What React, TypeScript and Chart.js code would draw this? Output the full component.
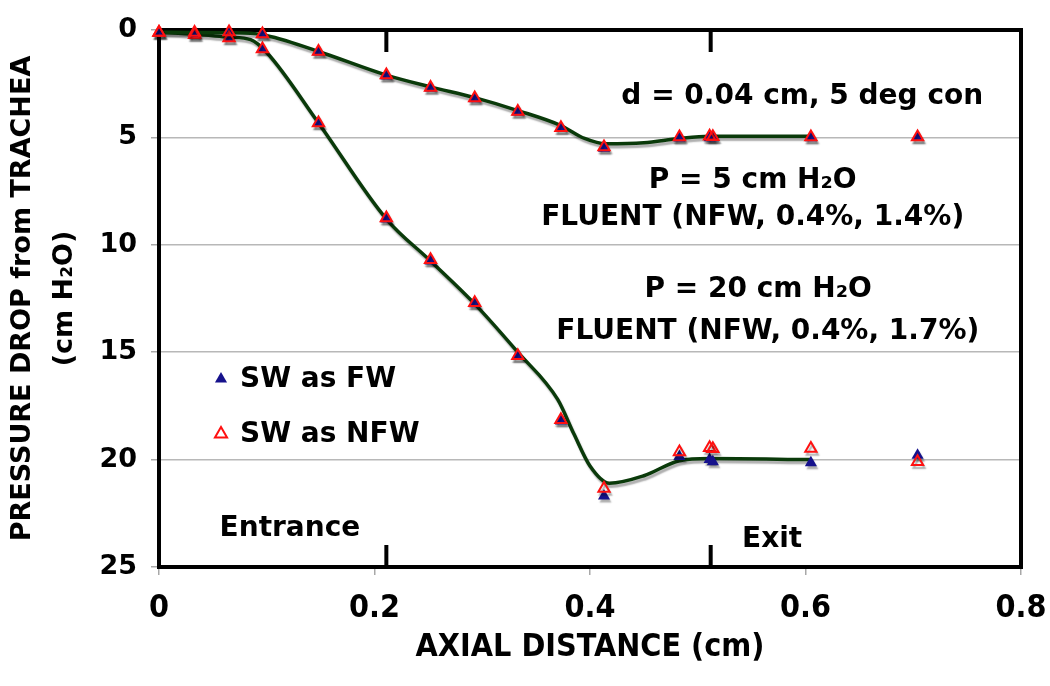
import React, { useEffect, useRef } from 'react';
import { Chart, registerables } from 'chart.js';

Chart.register(...registerables);

// ---- data ----
// axial positions of the computed points (cm)
const axialX = [0, 0.033, 0.065, 0.096, 0.148, 0.211, 0.252, 0.293, 0.333, 0.373, 0.413, 0.483, 0.511, 0.514, 0.605, 0.704];
// P = 5 cm H2O
const p5SWasFW = [0.14, 0.16, 0.12, 0.22, 1.02, 2.14, 2.7, 3.2, 3.82, 4.58, 5.5, 5.03, 5.02, 5.02, 5.02, 5.0];
const p5SWasNFW = [0.12, 0.12, 0.09, 0.19, 1.0, 2.1, 2.68, 3.17, 3.8, 4.55, 5.45, 4.98, 4.95, 4.97, 4.98, 4.98];
// P = 20 cm H2O
const p20SWasFW = [0.14, 0.25, 0.4, 0.9, 4.35, 8.8, 10.75, 12.75, 15.2, 18.2, 21.7, 19.85, 20.0, 20.1, 20.15, 19.8];
const p20SWasNFW = [0.12, 0.22, 0.37, 0.88, 4.33, 8.75, 10.7, 12.7, 15.17, 18.15, 21.35, 19.65, 19.45, 19.5, 19.48, 20.1];

// FLUENT (NFW) curves
const fluentP5X = [0, 0.033, 0.065, 0.096, 0.148, 0.211, 0.252, 0.293, 0.333, 0.373, 0.395, 0.415, 0.45, 0.483, 0.511, 0.605];
const fluentP5Y = [0.1, 0.12, 0.13, 0.22, 1.0, 2.1, 2.65, 3.15, 3.75, 4.45, 5.05, 5.3, 5.25, 5.05, 4.95, 4.95];
const fluentP20X = [0, 0.033, 0.065, 0.085, 0.1, 0.148, 0.211, 0.252, 0.293, 0.333, 0.37, 0.385, 0.4, 0.418, 0.45, 0.483, 0.511, 0.605];
const fluentP20Y = [0.12, 0.2, 0.33, 0.45, 1.05, 4.33, 8.8, 10.75, 12.75, 15.0, 17.2, 18.8, 20.3, 21.1, 20.75, 20.05, 19.95, 20.0];

// section boundaries (cm)
const boundaryX = [0.211, 0.512];

// axis ranges / ticks
const xMin = 0, xMax = 0.8, xStep = 0.2;
const yMin = 0, yMax = 25, yStep = 5;

// texts
const legendLabels = ['SW as FW', 'SW as NFW'];
const xTitle = 'AXIAL DISTANCE (cm)';
const yTitleLines = ['PRESSURE DROP from TRACHEA', '(cm H\u2082O)'];
const noteTexts = [
  'd = 0.04 cm, 5 deg con',
  'P = 5 cm H\u2082O',
  'FLUENT (NFW, 0.4%, 1.4%)',
  'P = 20 cm H\u2082O',
  'FLUENT (NFW, 0.4%, 1.7%)',
  'Entrance',
  'Exit',
];
// anchor of each note in data units (x centre, y centre)
const noteX = [0.597, 0.551, 0.551, 0.556, 0.565, 0.1215, 0.569];
const noteY = [3.12, 7.0, 8.75, 12.1, 14.05, 23.2, 23.75];

const FW_COLOR = '#16128c';
const NFW_COLOR = '#ff1010';
const LINE_COLOR = '#0a3a0a';
const FONT = '"DejaVu Sans", Verdana, sans-serif';
const FONT_COND = '"Liberation Sans Narrow", "DejaVu Sans Condensed", "DejaVu Sans", sans-serif';

const pts = (xs: number[], ys: number[]) => xs.map((x, i) => ({ x, y: ys[i] }));

function drawTriangle(ctx: CanvasRenderingContext2D, x: number, y: number, r: number) {
  ctx.beginPath();
  let rad = 0;
  for (let k = 0; k < 3; k++) {
    const px = x + Math.sin(rad) * r;
    const py = y - Math.cos(rad) * r;
    if (k === 0) ctx.moveTo(px, py); else ctx.lineTo(px, py);
    rad += (2 * Math.PI) / 3;
  }
  ctx.closePath();
}

const decorPlugin = {
  id: 'decor',
  beforeDatasetsDraw(chart: any) {
    const { ctx, chartArea: a, scales } = chart;
    const x = scales.x;
    ctx.save();
    ctx.strokeStyle = '#000';
    ctx.lineWidth = 4;
    ctx.strokeRect(a.left, a.top, a.right - a.left, a.bottom - a.top);
    ctx.beginPath();
    boundaryX.forEach((v) => {
      const px = x.getPixelForValue(v);
      ctx.moveTo(px, a.top);
      ctx.lineTo(px, a.top + 22);
      ctx.moveTo(px, a.bottom);
      ctx.lineTo(px, a.bottom - 22);
    });
    ctx.stroke();
    ctx.restore();
  },
  beforeDatasetDraw(chart: any) {
    const ctx = chart.ctx;
    ctx.save();
    ctx.shadowColor = 'rgba(0,0,0,0.32)';
    ctx.shadowOffsetX = 1.5;
    ctx.shadowOffsetY = 3;
    ctx.shadowBlur = 1.5;
  },
  afterDatasetDraw(chart: any) {
    chart.ctx.restore();
  },
  afterDraw(chart: any) {
    const { ctx, chartArea: a, scales } = chart;
    const x = scales.x, y = scales.y;
    ctx.save();
    ctx.fillStyle = '#000';
    ctx.textBaseline = 'middle';
    // notes
    ctx.font = `bold 28px ${FONT}`;
    ctx.textAlign = 'center';
    noteTexts.forEach((t, i) => {
      ctx.fillText(t, x.getPixelForValue(noteX[i]), y.getPixelForValue(noteY[i]));
    });
    // legend
    const lx = a.left + 62;
    const ly = [y.getPixelForValue(16.3), y.getPixelForValue(18.85)];
    ctx.textAlign = 'left';
    legendLabels.forEach((t, i) => {
      drawTriangle(ctx, lx, ly[i] - 1, 7);
      if (i === 0) {
        ctx.fillStyle = FW_COLOR;
        ctx.fill();
      } else {
        ctx.strokeStyle = NFW_COLOR;
        ctx.lineWidth = 2;
        ctx.stroke();
      }
      ctx.fillStyle = '#000';
      ctx.fillText(t, lx + 19, ly[i]);
    });
    // x title
    ctx.textAlign = 'center';
    ctx.font = `bold 32px ${FONT_COND}`;
    ctx.fillText(xTitle, (a.left + a.right) / 2, 648);
    // y title
    ctx.font = `bold 27px ${FONT}`;
    ctx.translate(0, (a.top + a.bottom) / 2 + 0);
    ctx.rotate(-Math.PI / 2);
    ctx.fillText(yTitleLines[0], 0, 23);
    ctx.fillText(yTitleLines[1], 0, 65);
    ctx.restore();
  },
};

export default function App() {
  const ref = useRef<HTMLCanvasElement | null>(null);
  useEffect(() => {
    if (!ref.current) return;
    const lineDs = (data: any[]) => ({
      type: 'line' as const,
      data,
      showLine: true,
      borderColor: LINE_COLOR,
      borderWidth: 3.5,
      pointRadius: 0,
      fill: false,
      tension: 0.4,
      cubicInterpolationMode: 'monotone' as const,
      clip: false as any,
      order: 5,
    });
    const fwDs = (data: any[]) => ({
      type: 'scatter' as const,
      data,
      pointStyle: 'triangle',
      pointRadius: 7,
      pointBackgroundColor: FW_COLOR,
      pointBorderColor: FW_COLOR,
      pointBorderWidth: 0,
      showLine: false,
      clip: false as any,
      order: 3,
    });
    const nfwDs = (data: any[]) => ({
      type: 'scatter' as const,
      data,
      pointStyle: 'triangle',
      pointRadius: 6.5,
      pointBackgroundColor: 'rgba(0,0,0,0)',
      pointBorderColor: NFW_COLOR,
      pointBorderWidth: 2,
      showLine: false,
      clip: false as any,
      order: 1,
    });
    const chart = new Chart(ref.current, {
      type: 'scatter',
      data: {
        datasets: [
          { label: 'FLUENT P=5', ...lineDs(pts(fluentP5X, fluentP5Y)) },
          { label: 'FLUENT P=20', ...lineDs(pts(fluentP20X, fluentP20Y)) },
          { label: 'SW as FW (P=5)', ...fwDs(pts(axialX, p5SWasFW)) },
          { label: 'SW as FW (P=20)', ...fwDs(pts(axialX, p20SWasFW)) },
          { label: 'SW as NFW (P=5)', ...nfwDs(pts(axialX, p5SWasNFW)) },
          { label: 'SW as NFW (P=20)', ...nfwDs(pts(axialX, p20SWasNFW)) },
        ] as any,
      },
      options: {
        animation: false,
        responsive: false,
        maintainAspectRatio: false,
        layout: { padding: { top: 30, right: 29, left: 0, bottom: 0 } },
        plugins: { legend: { display: false }, tooltip: { enabled: false } },
        scales: {
          x: {
            type: 'linear',
            min: xMin,
            max: xMax,
            ticks: {
              stepSize: xStep,
              color: '#000',
              font: { family: FONT_COND, size: 32, weight: 'bold' },
              padding: 14,
              maxRotation: 0,
              callback: (v: any) => String(Math.round(Number(v) * 10) / 10),
            },
            grid: { drawOnChartArea: false, drawTicks: true, tickLength: 8, tickColor: '#a8a8a8', lineWidth: 1.5 },
            border: { display: false },
            afterFit: (s: any) => { s.height = 686 - 567; s.paddingLeft = 0; s.paddingRight = 0; },
          },
          y: {
            type: 'linear',
            reverse: true,
            min: yMin,
            max: yMax,
            ticks: {
              stepSize: yStep,
              color: '#000',
              font: { family: FONT, size: 27, weight: 'bold' },
              padding: 14,
            },
            grid: { color: '#b8b8b8', lineWidth: 1.5, drawTicks: true, tickLength: 8, tickColor: '#a8a8a8' },
            border: { display: false },
            afterFit: (s: any) => { s.width = 159; s.paddingTop = 0; s.paddingBottom = 0; },
          },
        },
      },
      plugins: [decorPlugin],
    } as any);
    return () => chart.destroy();
  }, []);
  return (
    <div style={{ position: 'absolute', left: 0, top: 0, width: 1050, height: 686, background: '#fff' }}>
      <canvas ref={ref} width={1050} height={686} style={{ display: 'block' }} />
    </div>
  );
}
